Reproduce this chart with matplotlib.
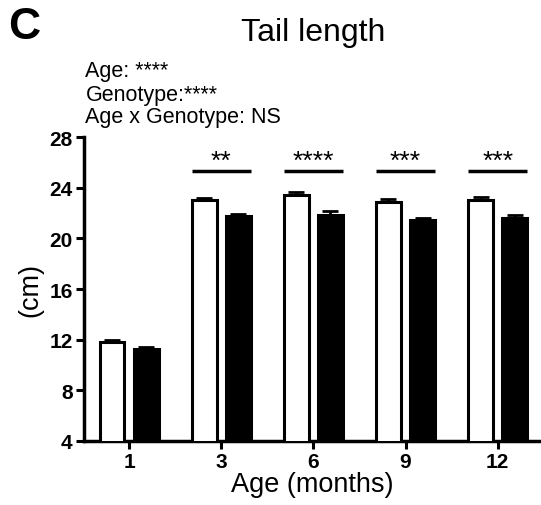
import matplotlib
matplotlib.use("Agg")
import matplotlib.pyplot as plt
import numpy as np

plt.rcParams["font.family"] = ["Liberation Sans", "DejaVu Sans"]

# tail length (cm) per age group, wild type (white) vs mutant (black)
ages = ["1", "3", "6", "9", "12"]
wt_mean = [11.84, 23.05, 23.42, 22.89, 23.05]
wt_sem = [0.10, 0.18, 0.28, 0.22, 0.26]
mut_mean = [11.26, 21.79, 21.84, 21.44, 21.58]
mut_sem = [0.18, 0.16, 0.32, 0.16, 0.30]
sig_labels = ["", "**", "****", "***", "***"]
anova_lines = ["Age: ****", "Genotype:****", "Age x Genotype: NS"]

fig = plt.figure(figsize=(5.41, 5.06), dpi=100)
ax = fig.add_axes([0.155, 0.1265, 0.845, 0.6005])

x = np.arange(len(ages))
off = 0.185
w = 0.27
ekw = dict(ecolor="black", elinewidth=2, capsize=6, capthick=2)
ax.bar(x - off, wt_mean, w, color="white", edgecolor="black", linewidth=2.2, zorder=3)
ax.errorbar(x - off, wt_mean, yerr=[np.zeros(5), wt_sem], fmt="none", zorder=2, **ekw)
ax.bar(x + off, mut_mean, w, color="black", edgecolor="black", linewidth=2.2, zorder=3)
ax.errorbar(x + off, mut_mean, yerr=[np.zeros(5), mut_sem], fmt="none", zorder=2, **ekw)

# post-hoc comparison bars
for i, lab in enumerate(sig_labels):
    if not lab:
        continue
    ax.plot([i - 0.32, i + 0.32], [25.3, 25.3], color="black", lw=2.5, solid_capstyle="butt")
    ax.text(i, 25.6, lab, ha="center", va="baseline", fontsize=19)

ax.set_ylim(4, 28)
ax.set_yticks([4, 8, 12, 16, 20, 24, 28])
ax.set_xlim(-0.49, 4.47)
ax.set_xticks(x)
ax.set_xticklabels(ages)
for s in ["top", "right"]:
    ax.spines[s].set_visible(False)
for s in ["left", "bottom"]:
    ax.spines[s].set_linewidth(2.5)
ax.tick_params(width=2.2, length=6, labelsize=15, pad=2)
for t in ax.get_xticklabels() + ax.get_yticklabels():
    t.set_fontweight("bold")

ax.set_xlabel("Age (months)", fontsize=19.5, labelpad=0)
ax.set_ylabel("(cm)", fontsize=19.5, labelpad=4)

fig.text(0.579, 0.935, "Tail length", ha="center", va="center", fontsize=23)
fig.text(0.015, 0.945, "C", ha="left", va="center", fontsize=32, fontweight="bold")
for k, line in enumerate(anova_lines):
    fig.text(0.158, 1 - (72 + 23 * k) / 506, line, ha="left", va="center", fontsize=15.5)

fig.savefig("out.png", dpi=100)
